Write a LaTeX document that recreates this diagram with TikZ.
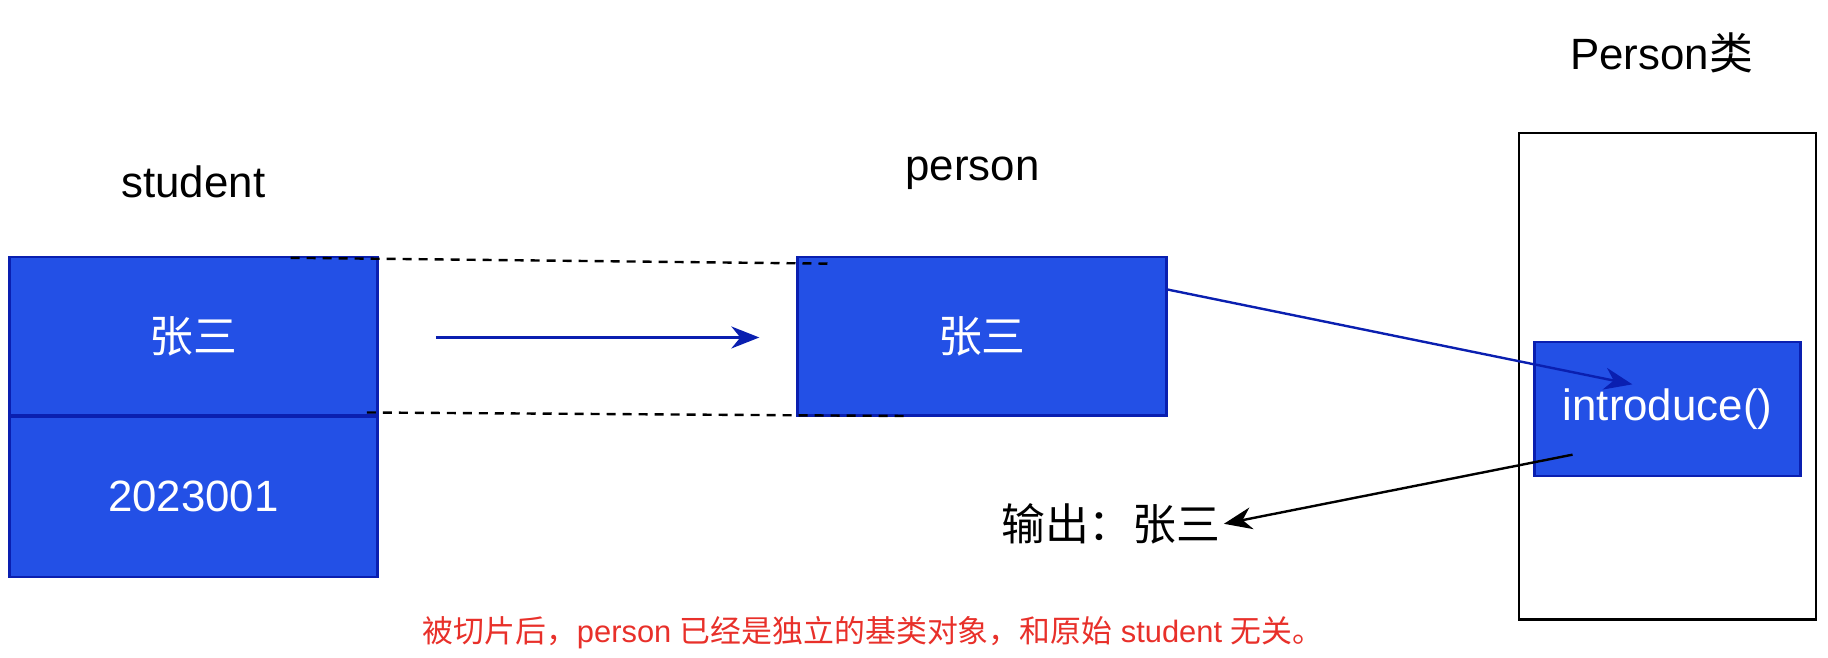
\documentclass[tikz,border=0pt]{standalone}
\usepackage{fontspec}
\setmainfont{Liberation Sans}
\newfontfamily\cjk{Noto Sans CJK SC}
\usetikzlibrary{arrows.meta}
\definecolor{boxfill}{HTML}{2350E6}
\definecolor{boxline}{HTML}{0A1FB0}
\definecolor{notered}{HTML}{E8302A}
\tikzset{
  field/.style={draw=boxline, line width=2.4bp, fill=boxfill, text=white,
    inner sep=0pt, font=\fontsize{44}{50}\selectfont},
  title/.style={font=\fontsize{44}{50}\selectfont},
  link/.style={line width=2.4bp, -{Stealth[length=28bp, width=22bp, inset=9bp]}}
}
\begin{document}
\begin{tikzpicture}[x=1.172bp, y=-1.172bp]
  \useasboundingbox (0,0) rectangle (1560,561);
  % student object
  \node[field, minimum width=314*1.172bp, minimum height=135*1.172bp] (sname) at (165,287) {\cjk 张三};
  \node[field, minimum width=314*1.172bp, minimum height=137*1.172bp] (sid) at (165,424) {2023001};
  \node[title] (slabel) at (165,155) {student};
  % sliced copy
  \node[field, minimum width=315*1.172bp, minimum height=135*1.172bp] (pname) at (838,287) {\cjk 张三};
  \node[title] (plabel) at (830,148) {person};
  \coordinate (c1) at (248,220); \coordinate (c2) at (708,225);
  \coordinate (c3) at (313,352); \coordinate (c4) at (772,355);
  \draw[line width=2.4bp, dashed, dash pattern=on 9bp off 7bp] (c1) -- (c2);
  \draw[line width=2.4bp, dashed, dash pattern=on 9bp off 7bp] (c3) -- (c4);
  \coordinate (a1) at (372,288); \coordinate (a2) at (648,288);
  \draw[link, boxline] (a1) -- (a2);
  % Person class
  \node[draw, line width=2.4bp, minimum width=253*1.172bp, minimum height=415*1.172bp] (pclass) at (1423,321) {};
  \node[title] (clabel) at (1418,45) {Person{\cjk 类}};
  \node[field, minimum width=227*1.172bp, minimum height=114*1.172bp] (intro) at (1423,349) {introduce()};
  \coordinate (b1) at (996,247); \coordinate (b2) at (1393,328);
  \draw[link, boxline] (b1) -- (b2);
  \coordinate (o1) at (1342,388);
  \node[title] (out) at (948,447) {\cjk 输出：张三};
  \draw[link, black] (o1) -- (out.east);
  % note
  \node[text=notered, font=\fontsize{31}{36}\selectfont] (note) at (745,540)
    {{\cjk 被切片后，}person {\cjk 已经是独立的基类对象，和原始} student {\cjk 无关。}};
\end{tikzpicture}
\end{document}
